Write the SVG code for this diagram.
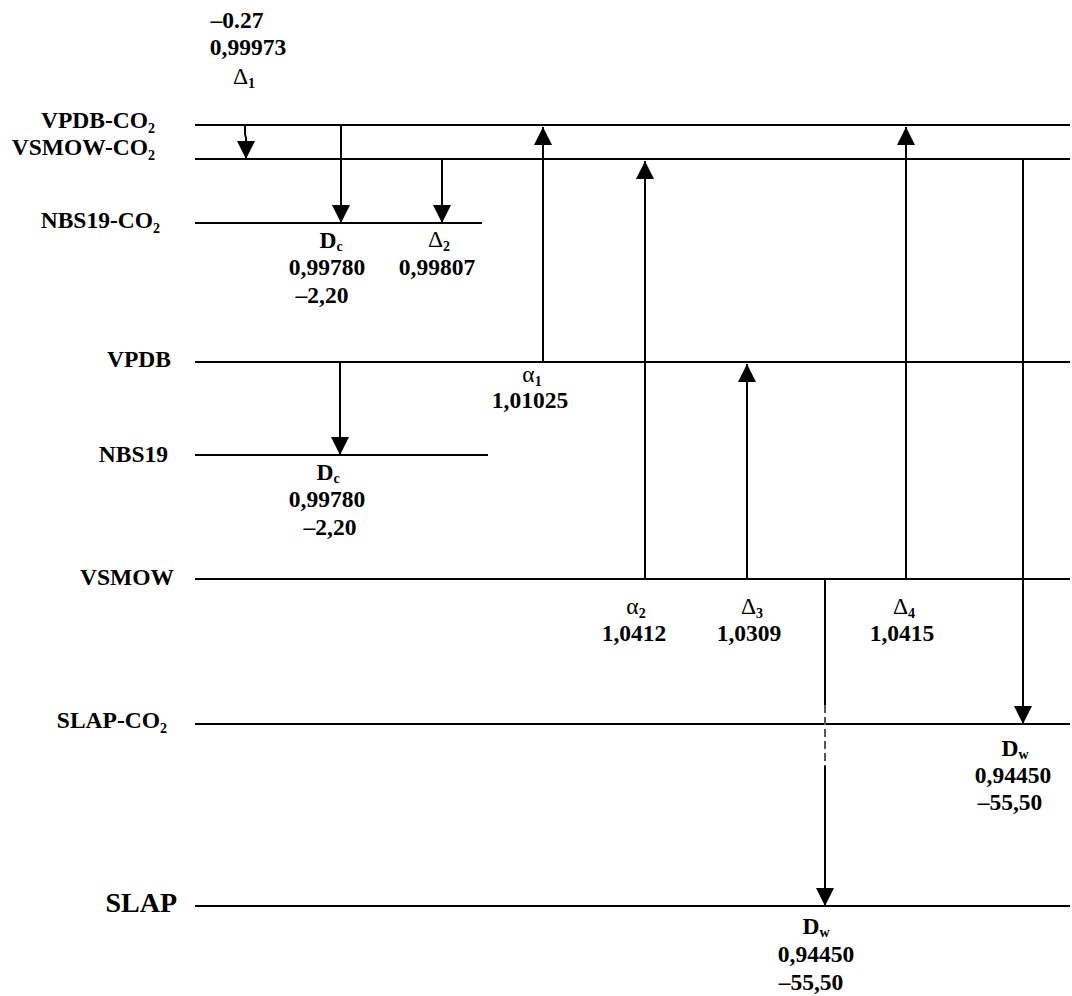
<svg xmlns="http://www.w3.org/2000/svg" width="1072" height="996" viewBox="0 0 1072 996">
<defs>
<marker id="ah" markerUnits="userSpaceOnUse" viewBox="0 0 18 18" refX="18" refY="9" markerWidth="18" markerHeight="18" orient="auto">
<path d="M0,0 L18,9 L0,18 z" fill="#000"/>
</marker>
</defs>
<style>
.lv{stroke:#000;stroke-width:2;fill:none}
.ar{stroke:#000;stroke-width:2;fill:none;marker-end:url(#ah)}
.dash{stroke:#555;stroke-width:2;stroke-dasharray:8 4;fill:none}
text{font-family:"Liberation Serif","Times New Roman",serif;font-weight:bold;font-size:23.5px;fill:#000}
.c{text-anchor:middle}
.e{text-anchor:end}
.g{font-weight:normal}
.s{font-size:14px}
.big{font-size:28px}
</style>
<g id="levels">
<g id="vpdb-co2"><line class="lv" x1="195" y1="125" x2="1070" y2="125"/><text class="e" x="155" y="128">VPDB-CO<tspan class="s" dy="5">2</tspan></text></g>
<g id="vsmow-co2"><line class="lv" x1="195" y1="159" x2="1070" y2="159"/><text class="e" x="155" y="155">VSMOW-CO<tspan class="s" dy="5">2</tspan></text></g>
<g id="nbs19-co2"><line class="lv" x1="195" y1="223" x2="482" y2="223"/><text class="e" x="160" y="228">NBS19-CO<tspan class="s" dy="5">2</tspan></text></g>
<g id="vpdb"><line class="lv" x1="195" y1="362" x2="1070" y2="362"/><text class="e" x="171" y="367">VPDB</text></g>
<g id="nbs19"><line class="lv" x1="195" y1="455" x2="488" y2="455"/><text class="e" x="168" y="462">NBS19</text></g>
<g id="vsmow"><line class="lv" x1="195" y1="579" x2="1070" y2="579"/><text class="e" x="174" y="585">VSMOW</text></g>
<g id="slap-co2"><line class="lv" x1="195" y1="724" x2="1070" y2="724"/><text class="e" x="167" y="728">SLAP-CO<tspan class="s" dy="5">2</tspan></text></g>
<g id="slap"><line class="lv" x1="195" y1="906" x2="1070" y2="906"/><text class="e big" x="177" y="912">SLAP</text></g>
</g>
<g id="connectors">
<path class="ar" d="M245,125 V134 L246,138 V159"/>
<line class="ar" x1="341" y1="125" x2="341" y2="223"/>
<line class="ar" x1="442" y1="159" x2="442" y2="223"/>
<line class="ar" x1="543" y1="362" x2="543" y2="127"/>
<line class="ar" x1="645" y1="579" x2="645" y2="161"/>
<line class="ar" x1="747" y1="579" x2="747" y2="364"/>
<line class="ar" x1="906" y1="579" x2="906" y2="127"/>
<line class="ar" x1="1023" y1="159" x2="1023" y2="724"/>
<line class="ar" x1="340" y1="362" x2="340" y2="455"/>
<line class="lv" x1="825" y1="579" x2="825" y2="705"/>
<line class="dash" x1="825" y1="705" x2="825" y2="766"/>
<line class="ar" x1="825" y1="766" x2="825" y2="906"/>
</g>
<g id="labels">
<g id="lbl-d1"><text class="c" x="237" y="28">–0.27</text><text class="c" x="248" y="55">0,99973</text><text class="c" x="244" y="84"><tspan class="g">Δ</tspan><tspan class="s" dy="4">1</tspan></text></g>
<g id="lbl-dc1"><text class="c" x="331" y="248">D<tspan class="s" dy="3">c</tspan></text><text class="c" x="327" y="275">0,99780</text><text class="c" x="322" y="303">–2,20</text></g>
<g id="lbl-d2"><text class="c" x="439" y="247"><tspan class="g">Δ</tspan><tspan class="s" dy="4">2</tspan></text><text class="c" x="437" y="275">0,99807</text></g>
<g id="lbl-a1"><text class="c" x="532" y="382"><tspan class="g">α</tspan><tspan class="s" dy="4">1</tspan></text><text class="c" x="530" y="408">1,01025</text></g>
<g id="lbl-dc2"><text class="c" x="328" y="480">D<tspan class="s" dy="3">c</tspan></text><text class="c" x="327" y="507">0,99780</text><text class="c" x="330" y="535">–2,20</text></g>
<g id="lbl-a2"><text class="c" x="636" y="614"><tspan class="g">α</tspan><tspan class="s" dy="4">2</tspan></text><text class="c" x="634" y="641">1,0412</text></g>
<g id="lbl-d3"><text class="c" x="752" y="614"><tspan class="g">Δ</tspan><tspan class="s" dy="4">3</tspan></text><text class="c" x="749" y="641">1,0309</text></g>
<g id="lbl-d4"><text class="c" x="904" y="614"><tspan class="g">Δ</tspan><tspan class="s" dy="4">4</tspan></text><text class="c" x="902" y="641">1,0415</text></g>
<g id="lbl-dw1"><text class="c" x="1015" y="756">D<tspan class="s" dy="3">w</tspan></text><text class="c" x="1013" y="783">0,94450</text><text class="c" x="1010" y="810">–55,50</text></g>
<g id="lbl-dw2"><text class="c" x="816" y="934">D<tspan class="s" dy="3">w</tspan></text><text class="c" x="816" y="962">0,94450</text><text class="c" x="811" y="990">–55,50</text></g>
</g>
</svg>
